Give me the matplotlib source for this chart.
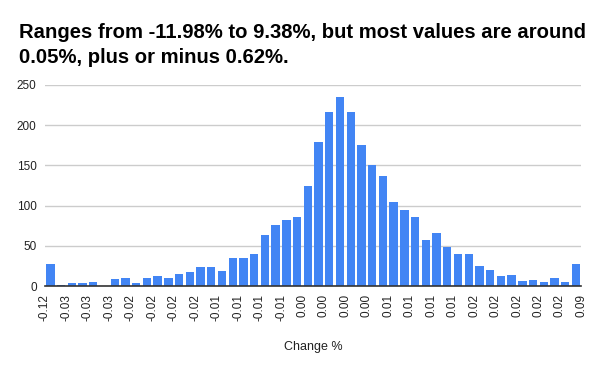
import numpy as np
import matplotlib
matplotlib.use("Agg")
import matplotlib.pyplot as plt

plt.rcParams['font.family'] = ['Liberation Sans', 'DejaVu Sans']

# bucket counts (50 buckets)
counts = [27, 1, 4, 4, 5, 0, 9, 10, 4, 10,
          12, 10, 15, 17, 24, 24, 19, 35, 35, 40,
          63, 76, 82, 86, 124, 179, 216, 235, 216, 175,
          150, 137, 104, 95, 86, 57, 66, 48, 40, 40,
          25, 20, 12, 14, 6, 7, 5, 10, 5, 27]

# labels at every other bucket boundary
edge_labels = ['-0.12', '-0.03', '-0.03', '-0.03', '-0.02', '-0.02', '-0.02',
               '-0.02', '-0.01', '-0.01', '-0.01', '-0.01', '0.00', '0.00',
               '0.00', '0.00', '0.01', '0.01', '0.01', '0.01', '0.02', '0.02',
               '0.02', '0.02', '0.02', '0.09']

title_lines = ["Ranges from -11.98% to 9.38%, but most values are around",
               "0.05%, plus or minus 0.62%."]

fig = plt.figure(figsize=(6, 3.71), dpi=100)
ax = fig.add_axes([0.075, 0.2291, 0.894, 0.5418])

x = np.arange(len(counts))
ax.bar(x, counts, width=0.78, color='#4285f4', zorder=3)

ax.set_xlim(-0.5, len(counts) - 0.5)
ax.set_ylim(0, 250)
ax.set_yticks([0, 50, 100, 150, 200, 250])
ax.yaxis.grid(True, color='#cccccc', linewidth=1, zorder=0)
ax.set_xticks(np.arange(0, len(counts) + 1, 2) - 0.5)
ax.set_xticklabels(edge_labels, rotation=90, fontsize=8.5, color='#222222')
ax.tick_params(axis='both', length=0, labelsize=8.5, labelcolor='#222222')
ax.tick_params(axis='x', pad=6)
ax.tick_params(axis='y', pad=6)

for s in ['top', 'right', 'left']:
    ax.spines[s].set_visible(False)
ax.spines['bottom'].set_color('#333333')
ax.spines['bottom'].set_linewidth(1.2)
ax.spines['bottom'].set_zorder(4)

ax.set_xlabel("Change %", fontsize=9, color='#222222', labelpad=14)

fig.text(19 / 600, 1 - 38 / 371, title_lines[0], fontsize=14.6,
         fontweight='bold', va='baseline', ha='left')
fig.text(19 / 600, 1 - 62.7 / 371, title_lines[1], fontsize=14.6,
         fontweight='bold', va='baseline', ha='left')

fig.savefig("out.png", dpi=100)
